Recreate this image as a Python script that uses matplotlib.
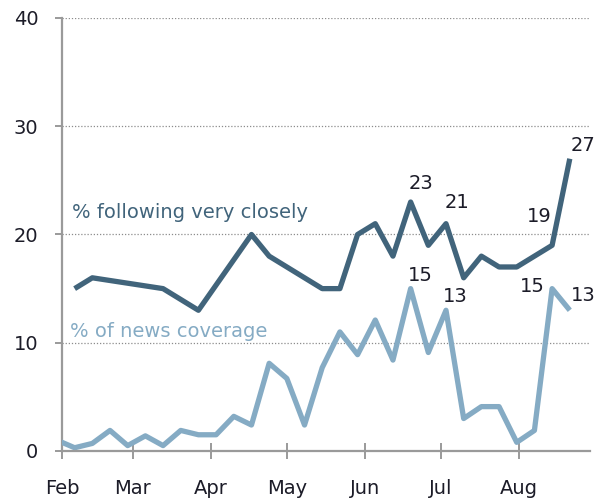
import pandas as pd
import matplotlib
matplotlib.use("Agg")
import matplotlib.pyplot as plt

# Weekly survey: share following the story very closely
follow_dates = ["2009-02-06", "2009-02-13", "2009-03-13", "2009-03-27", "2009-04-17",
                "2009-04-24", "2009-05-15", "2009-05-22", "2009-05-29", "2009-06-05",
                "2009-06-12", "2009-06-19", "2009-06-26", "2009-07-03", "2009-07-10",
                "2009-07-17", "2009-07-24", "2009-07-31", "2009-08-14", "2009-08-21"]
follow_vals = [15, 16, 15, 13, 20, 18, 15, 15, 20, 21, 18, 23, 19, 21, 16, 18, 17, 17, 19, 27]

# Weekly share of the news hole given to the story
coverage_dates = ["2009-01-30", "2009-02-06", "2009-02-13", "2009-02-20", "2009-02-27",
                  "2009-03-06", "2009-03-13", "2009-03-20", "2009-03-27", "2009-04-03",
                  "2009-04-10", "2009-04-17", "2009-04-24", "2009-05-01", "2009-05-08",
                  "2009-05-15", "2009-05-22", "2009-05-29", "2009-06-05", "2009-06-12",
                  "2009-06-19", "2009-06-26", "2009-07-03", "2009-07-10", "2009-07-17",
                  "2009-07-24", "2009-07-31", "2009-08-07", "2009-08-14", "2009-08-21"]
coverage_vals = [1.0, 0.3, 0.7, 1.9, 0.5, 1.4, 0.5, 1.9, 1.5, 1.5, 3.2, 2.4, 8.1, 6.7, 2.4,
                 7.7, 11, 8.9, 12.1, 8.4, 15, 9.1, 13, 3, 4.1, 4.1, 0.8, 1.9, 15, 13]

month_ticks = ["2009-02-01", "2009-03-01", "2009-04-01", "2009-05-01",
               "2009-06-01", "2009-07-01", "2009-08-01"]
month_labels = ["Feb", "Mar", "Apr", "May", "Jun", "Jul", "Aug"]

# labelled points: (date, value, x/y offset in pixels)
follow_notes = [("2009-06-19", 23, (10, 19)), ("2009-07-03", 21, (11, 21)),
                ("2009-08-14", 19, (-13, 29)), ("2009-08-21", 27, (13, 13))]
coverage_notes = [("2009-06-19", 15, (10, 13)), ("2009-07-03", 13, (9, 14)),
                  ("2009-08-14", 15, (-20, 2)), ("2009-08-21", 13, (13, 15))]

dark = "#41647b"
light = "#85abc4"
text_col = "#1c1c28"
axis_col = "#9a9a9a"

fd = pd.to_datetime(follow_dates)
cd = pd.to_datetime(coverage_dates)

fig = plt.figure(figsize=(6, 5), dpi=100)
ax = fig.add_axes([62 / 600, 49 / 500, 528 / 600, 433 / 500])

ax.plot(cd, coverage_vals, color=light, lw=3.8, solid_joinstyle="round",
        solid_capstyle="butt", zorder=3)
ax.plot(fd, follow_vals, color=dark, lw=3.8, solid_joinstyle="round",
        solid_capstyle="butt", zorder=4)

for d, v, off in follow_notes + coverage_notes:
    ax.annotate(str(v), (pd.Timestamp(d), v), xytext=off, textcoords="offset pixels",
                ha="center", va="center", fontsize=14, color=text_col)

ax.text(pd.Timestamp("2009-02-05"), 22.0, "% following very closely", color=dark,
        fontsize=14, va="center", ha="left")
ax.text(pd.Timestamp("2009-02-04"), 11.0, "% of news coverage", color=light,
        fontsize=14, va="center", ha="left")

ax.set_xlim(pd.Timestamp("2009-02-01"), pd.Timestamp("2009-08-29"))
ax.set_ylim(0, 40)
ax.set_yticks([0, 10, 20, 30, 40])
ax.set_xticks(pd.to_datetime(month_ticks))
ax.set_xticklabels(month_labels)

# dotted reference lines
for y in [10, 20, 30, 40]:
    ax.axhline(y, color="#8c8c8c", lw=0.9, ls=(0, (1, 1.5)), zorder=1)

for side in ["top", "right"]:
    ax.spines[side].set_visible(False)
for side in ["left", "bottom"]:
    ax.spines[side].set_color(axis_col)
    ax.spines[side].set_linewidth(1.6)
ax.spines["bottom"].set_zorder(5)

ax.tick_params(axis="y", direction="out", length=5, width=1.4, color=axis_col,
               labelsize=14, labelcolor=text_col, pad=12)
ax.tick_params(axis="x", direction="inout", length=11, width=1.4, color=axis_col,
               labelsize=14, labelcolor=text_col, pad=15)

fig.savefig("out.png", dpi=100)
